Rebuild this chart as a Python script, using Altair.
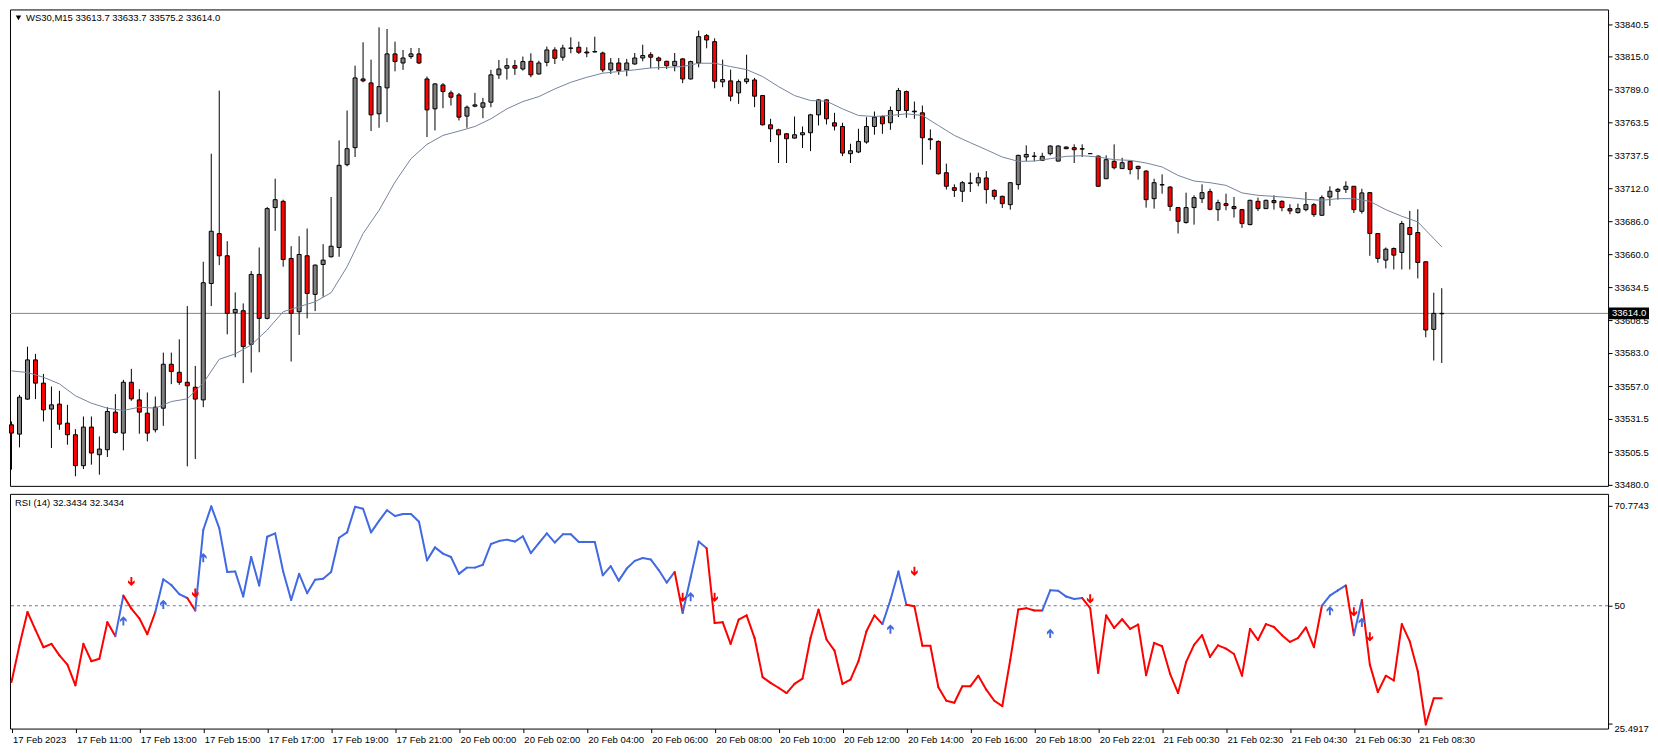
import altair as alt
import pandas as pd

# ---------------- data ----------------
time_labels = ["17 Feb 2023", "17 Feb 11:00", "17 Feb 13:00", "17 Feb 15:00", "17 Feb 17:00",
               "17 Feb 19:00", "17 Feb 21:00", "20 Feb 00:00", "20 Feb 02:00", "20 Feb 04:00",
               "20 Feb 06:00", "20 Feb 08:00", "20 Feb 10:00", "20 Feb 12:00", "20 Feb 14:00",
               "20 Feb 16:00", "20 Feb 18:00", "20 Feb 22:01", "21 Feb 00:30", "21 Feb 02:30",
               "21 Feb 04:30", "21 Feb 06:30", "21 Feb 08:30"]
label_bars = [8 * k for k in range(len(time_labels))]

price_ticks = [33840.5, 33815.0, 33789.0, 33763.5, 33737.5, 33712.0, 33686.0, 33660.0,
               33634.5, 33608.5, 33583.0, 33557.0, 33531.5, 33505.5, 33480.0]
rsi_ticks = [70.7743, 50, 25.4917]

opens = [33526.8, 33519.5, 33546.9, 33577.6, 33559.4, 33539.1, 33543.0, 33528.1, 33519.0, 33494.8,
         33525.0, 33503.4, 33507.3, 33536.7, 33520.3, 33560.1, 33546.3, 33535.9, 33522.9, 33539.8,
         33574.2, 33567.9, 33560.1, 33556.2, 33546.3, 33637.4, 33676.5, 33659.1, 33614.5, 33616.1,
         33589.8, 33644.5, 33610.1, 33696.8, 33701.7, 33657.0, 33615.3, 33659.1, 33628.9, 33652.3,
         33658.3, 33665.6, 33730.4, 33743.7, 33797.5, 33794.4, 33770.2, 33790.5, 33817.1, 33810.0,
         33815.0, 33817.1, 33797.5, 33774.1, 33792.8, 33786.6, 33785.0, 33768.4, 33776.2, 33775.4,
         33779.3, 33800.7, 33805.9, 33807.9, 33805.3, 33811.3, 33801.4, 33810.5, 33820.2, 33814.5,
         33821.5, 33822.3, 33818.6, 33818.6, 33817.8, 33804.6, 33810.0, 33804.6, 33809.2, 33813.9,
         33816.5, 33813.9, 33811.3, 33807.9, 33813.2, 33797.5, 33810.0, 33831.4, 33826.7, 33795.2,
         33796.0, 33786.6, 33795.4, 33796.7, 33784.5, 33761.6, 33757.7, 33754.6, 33751.2, 33753.8,
         33755.4, 33769.4, 33781.1, 33763.2, 33760.3, 33739.0, 33740.3, 33748.1, 33760.3, 33768.1,
         33763.2, 33772.8, 33787.6, 33772.3, 33771.0, 33750.7, 33748.6, 33724.1, 33712.4, 33709.6,
         33715.8, 33716.1, 33720.0, 33710.3, 33705.6, 33699.1, 33714.8, 33736.4, 33736.9, 33733.8,
         33739.0, 33733.2, 33744.2, 33743.7, 33742.9, 33739.0, 33737.1, 33719.4, 33733.0, 33727.3,
         33733.0, 33729.1, 33725.4, 33703.8, 33714.5, 33712.9, 33696.8, 33685.1, 33696.8, 33703.8,
         33709.3, 33695.2, 33699.9, 33697.6, 33695.2, 33683.5, 33701.7, 33696.0, 33702.3, 33701.7,
         33696.0, 33692.9, 33695.2, 33699.1, 33690.8, 33705.1, 33709.6, 33711.1, 33713.5, 33693.9,
         33708.5, 33676.5, 33655.7, 33664.8, 33661.7, 33681.2, 33677.3, 33654.4, 33601.5, 33613.7]

highs = [33529.4, 33550.2, 33588.0, 33582.3, 33566.6, 33556.8, 33553.4, 33542.4, 33523.4, 33533.3,
         33533.3, 33517.7, 33540.6, 33550.8, 33562.0, 33570.6, 33554.7, 33552.1, 33548.9, 33583.3,
         33583.3, 33593.7, 33619.7, 33572.9, 33654.4, 33739.0, 33788.4, 33670.5, 33630.4, 33621.8,
         33647.1, 33665.6, 33697.3, 33719.4, 33703.0, 33666.6, 33674.4, 33680.4, 33652.3, 33668.2,
         33705.1, 33749.4, 33772.8, 33807.9, 33826.2, 33812.6, 33837.9, 33836.6, 33826.7, 33820.2,
         33821.7, 33821.7, 33799.4, 33794.2, 33794.2, 33788.4, 33786.6, 33776.7, 33786.6, 33782.7,
         33804.6, 33812.4, 33813.7, 33812.4, 33815.0, 33817.6, 33811.8, 33822.8, 33822.3, 33824.3,
         33830.1, 33826.7, 33822.3, 33830.6, 33818.9, 33813.9, 33813.9, 33813.2, 33817.8, 33824.3,
         33818.4, 33815.0, 33811.8, 33817.8, 33813.7, 33811.8, 33835.3, 33832.7, 33829.3, 33812.6,
         33804.8, 33797.0, 33816.5, 33798.3, 33785.0, 33766.3, 33758.5, 33755.1, 33768.1, 33760.3,
         33770.2, 33781.7, 33781.7, 33771.0, 33763.2, 33746.8, 33758.5, 33767.6, 33772.0, 33768.9,
         33775.9, 33790.5, 33788.4, 33779.8, 33776.7, 33758.0, 33749.4, 33731.2, 33715.0, 33717.6,
         33724.1, 33724.1, 33725.4, 33711.1, 33706.2, 33716.8, 33738.2, 33745.5, 33740.3, 33739.7,
         33745.5, 33745.5, 33744.7, 33746.3, 33746.3, 33739.1, 33737.7, 33737.7, 33746.3, 33735.8,
         33733.2, 33729.6, 33726.0, 33719.4, 33722.8, 33713.5, 33697.3, 33708.5, 33706.4, 33715.0,
         33711.6, 33703.0, 33707.7, 33705.1, 33695.8, 33703.0, 33704.6, 33703.0, 33706.4, 33702.5,
         33699.4, 33699.9, 33709.0, 33700.4, 33706.4, 33713.5, 33712.2, 33717.4, 33713.7, 33711.6,
         33709.0, 33676.8, 33665.6, 33665.6, 33686.4, 33694.2, 33695.5, 33654.6, 33630.2, 33633.7]

lows = [33491.7, 33509.1, 33546.3, 33546.9, 33529.4, 33508.6, 33522.9, 33511.2, 33486.5, 33492.2,
        33495.6, 33487.8, 33501.6, 33519.8, 33506.8, 33545.6, 33519.8, 33513.8, 33520.8, 33526.0,
        33558.6, 33558.1, 33494.3, 33500.0, 33540.6, 33619.7, 33651.8, 33597.6, 33579.7, 33559.4,
        33567.7, 33583.6, 33609.3, 33678.6, 33650.5, 33576.3, 33597.1, 33610.1, 33615.8, 33627.0,
        33657.8, 33658.3, 33729.1, 33736.4, 33794.9, 33756.7, 33759.3, 33763.7, 33803.5, 33804.6,
        33813.2, 33809.2, 33752.0, 33757.2, 33774.6, 33776.7, 33765.0, 33759.3, 33775.4, 33766.8,
        33775.4, 33797.5, 33797.0, 33800.7, 33804.0, 33798.8, 33800.9, 33807.4, 33809.2, 33811.8,
        33817.6, 33817.1, 33814.5, 33818.4, 33802.7, 33801.4, 33800.7, 33799.6, 33808.7, 33811.3,
        33805.9, 33804.8, 33805.3, 33803.5, 33794.2, 33797.0, 33806.6, 33821.5, 33790.2, 33791.0,
        33780.1, 33778.0, 33793.6, 33775.4, 33761.1, 33748.1, 33731.7, 33731.7, 33750.7, 33743.4,
        33741.0, 33761.1, 33761.9, 33757.2, 33737.1, 33731.7, 33739.5, 33746.8, 33753.8, 33754.6,
        33757.7, 33767.6, 33767.1, 33766.3, 33730.4, 33742.1, 33722.6, 33710.9, 33705.1, 33701.2,
        33709.0, 33713.5, 33699.9, 33703.0, 33696.5, 33695.2, 33710.9, 33733.2, 33733.2, 33733.2,
        33737.7, 33733.0, 33742.6, 33731.7, 33736.4, 33739.0, 33712.9, 33719.2, 33726.7, 33727.0,
        33722.8, 33718.7, 33696.8, 33696.0, 33707.7, 33694.2, 33676.5, 33684.3, 33683.5, 33700.4,
        33694.7, 33686.4, 33694.7, 33689.0, 33680.9, 33683.0, 33694.2, 33695.8, 33695.2, 33693.9,
        33691.6, 33692.1, 33693.9, 33689.5, 33690.5, 33698.1, 33703.0, 33708.3, 33692.6, 33692.1,
        33659.1, 33653.6, 33649.2, 33648.4, 33648.4, 33648.4, 33641.4, 33595.3, 33577.1, 33575.2]

closes = [33520.3, 33548.4, 33577.6, 33559.4, 33538.5, 33542.4, 33527.3, 33519.0, 33494.8, 33525.0,
          33504.7, 33507.8, 33537.2, 33520.8, 33560.1, 33547.1, 33536.7, 33520.3, 33540.6, 33574.2,
          33568.5, 33560.1, 33557.3, 33546.9, 33638.0, 33678.3, 33659.1, 33614.0, 33617.1, 33588.0,
          33644.5, 33610.1, 33696.0, 33703.0, 33656.2, 33614.0, 33660.1, 33629.6, 33651.8, 33655.7,
          33666.6, 33729.9, 33742.9, 33798.3, 33796.0, 33769.4, 33791.5, 33817.1, 33811.1, 33813.9,
          33817.1, 33810.0, 33773.3, 33793.6, 33787.6, 33783.2, 33767.6, 33775.4, 33777.2, 33778.8,
          33800.7, 33805.3, 33807.9, 33805.9, 33811.1, 33800.7, 33810.0, 33820.2, 33813.7, 33821.7,
          33821.7, 33818.4, 33817.8, 33818.9, 33804.6, 33810.0, 33804.0, 33810.0, 33813.9, 33815.8,
          33814.5, 33811.8, 33807.9, 33811.3, 33797.5, 33811.1, 33830.6, 33828.0, 33795.7, 33797.0,
          33784.0, 33795.4, 33797.5, 33784.0, 33761.6, 33758.5, 33753.8, 33750.7, 33753.8, 33755.4,
          33769.4, 33781.1, 33766.3, 33760.6, 33739.5, 33741.3, 33748.6, 33760.3, 33767.6, 33762.4,
          33772.8, 33788.4, 33772.8, 33771.8, 33751.5, 33749.9, 33723.3, 33713.5, 33710.3, 33716.3,
          33716.1, 33720.2, 33710.9, 33705.6, 33699.9, 33716.3, 33737.7, 33738.4, 33737.1, 33736.9,
          33745.0, 33745.0, 33742.9, 33742.1, 33742.6, 33739.1, 33713.5, 33734.3, 33728.0, 33731.9,
          33726.7, 33727.3, 33703.0, 33716.3, 33714.8, 33697.8, 33686.1, 33696.8, 33704.6, 33708.5,
          33695.5, 33700.7, 33698.4, 33696.0, 33684.3, 33702.5, 33696.0, 33702.5, 33700.7, 33696.8,
          33694.2, 33696.0, 33699.1, 33691.3, 33704.6, 33709.6, 33711.1, 33713.5, 33695.2, 33708.3,
          33676.5, 33657.0, 33664.3, 33659.6, 33684.3, 33675.7, 33653.8, 33601.0, 33614.0, 33614.0]

ma_bars = list(range(0, 180, 2)) + [179]
ma_values = [33569.0, 33567.7, 33564.0, 33558.8, 33549.5, 33543.7, 33539.8, 33538.0, 33540.6, 33539.8,
             33545.0, 33547.1, 33559.4, 33578.1, 33582.3, 33589.3, 33601.0, 33615.3, 33619.2, 33623.1,
             33630.2, 33650.5, 33676.5, 33694.7, 33716.8, 33735.1, 33746.3, 33753.3, 33756.7, 33760.3,
             33766.3, 33774.1, 33779.8, 33783.7, 33789.7, 33794.9, 33798.8, 33802.0, 33803.3, 33804.6,
             33806.1, 33806.6, 33807.2, 33809.8, 33809.8, 33807.2, 33804.8, 33799.4, 33791.5, 33784.5,
             33780.6, 33780.1, 33774.1, 33768.9, 33768.1, 33768.9, 33770.2, 33768.9, 33761.1, 33753.3,
             33747.6, 33742.1, 33736.4, 33733.0, 33733.2, 33735.1, 33736.9, 33737.4, 33736.4, 33734.3,
             33733.8, 33731.7, 33728.6, 33722.0, 33717.6, 33716.3, 33714.2, 33708.3, 33706.4, 33705.6,
             33704.6, 33703.3, 33702.5, 33703.8, 33703.8, 33701.7, 33695.2, 33690.0, 33685.6, 33672.6,
             33666.1]

rsi_values = [34.2, 41.8, 48.7, 45.0, 41.4, 42.1, 39.7, 37.8, 33.5, 42.1,
              38.5, 39.0, 46.6, 43.7, 52.1, 49.4, 47.4, 44.1, 48.7, 55.5,
              54.3, 52.4, 51.6, 49.0, 65.7, 70.6, 66.1, 57.0, 57.1, 51.9,
              60.1, 54.2, 64.3, 65.0, 57.1, 51.2, 56.6, 52.6, 55.4, 55.6,
              57.0, 64.1, 65.2, 70.5, 70.1, 65.2, 67.6, 69.8, 68.6, 69.0,
              69.0, 67.4, 59.4, 62.1, 60.8, 60.1, 56.6, 57.9, 57.9, 58.5,
              62.8, 63.4, 63.7, 63.3, 64.4, 60.9, 63.0, 65.0, 63.1, 64.8,
              64.8, 63.2, 63.2, 63.2, 56.3, 58.2, 55.2, 57.7, 59.3, 59.9,
              59.6, 57.4, 54.8, 57.0, 48.5, 55.9, 63.3, 61.9, 46.4, 46.6,
              42.1, 47.1, 48.0, 43.3, 35.2, 34.0, 33.0, 31.9, 33.8, 34.9,
              43.3, 49.2, 43.0, 40.7, 33.8, 34.7, 38.5, 44.7, 48.0, 46.2,
              51.2, 57.1, 50.2, 49.9, 41.7, 41.7, 33.1, 30.3, 29.9, 33.3,
              33.3, 35.5, 32.6, 30.3, 29.2, 38.8, 49.2, 49.5, 49.0, 49.0,
              53.2, 53.1, 51.9, 51.4, 51.6, 49.5, 36.1, 48.0, 45.4, 47.2,
              45.2, 46.1, 35.6, 42.3, 41.6, 35.9, 31.9, 38.3, 41.9, 43.9,
              39.4, 41.8, 41.1, 40.0, 35.5, 45.2, 42.9, 46.2, 45.6, 43.9,
              42.5, 43.3, 45.5, 41.4, 50.0, 52.1, 53.2, 54.2, 43.9, 51.2,
              37.8, 32.1, 35.5, 34.5, 46.2, 42.6, 36.4, 25.4, 30.8, 30.8]

# RSI line segments drawn blue (indicator "up" state), as inclusive index ranges
rsi_up_ranges = [(13, 13), (18, 21), (23, 82), (84, 86), (109, 111), (129, 133), (164, 166), (168, 168)]

arrow_bars = [15, 23, 84, 88, 113, 135, 168, 170, 14, 19, 24, 85, 110, 130, 165, 169]
arrow_values = [55.0, 52.6, 51.7, 51.7, 57.1, 51.4, 48.7, 43.5, 46.9, 50.3, 60.0, 51.9, 45.2, 44.3, 49.0, 46.6]
arrow_dirs = ["down"] * 8 + ["up"] * 8

main_header = "WS30,M15  33613.7 33633.7 33575.2 33614.0"
rsi_header = "RSI (14) 32.3434 32.3434"
last_price = 33614.0

# ---------------- tables ----------------
n = len(opens)
ohlc = pd.DataFrame({"bar": list(range(n)), "open": opens, "high": highs, "low": lows, "close": closes})
ma_df = pd.DataFrame({"bar": ma_bars, "ma": ma_values})


def state_of(i):
    return "up" if any(a <= i <= b for a, b in rsi_up_ranges) else "down"


seg_df = pd.DataFrame({
    "bar": list(range(n - 1)),
    "bar2": list(range(1, n)),
    "r1": rsi_values[:-1],
    "r2": rsi_values[1:],
    "state": [state_of(i) for i in range(n - 1)],
})
arrow_df = pd.DataFrame({"bar": arrow_bars, "val": arrow_values, "dir": arrow_dirs})

# ---------------- layout ----------------
FONT = "Liberation Sans, Arial, sans-serif"
FS = 9.5
W = 1600
H_MAIN = 477
H_RSI = 235
BLUE = "#4169e1"
RED = "#ff0000"

DOWN_PATH = "M -0.2 -1 L 0.2 -1 L 0.2 0.15 L 0.7 -0.3 L 0.7 0.25 L 0 0.95 L -0.7 0.25 L -0.7 -0.3 L -0.2 0.15 Z"
UP_PATH = "M -0.2 1 L 0.2 1 L 0.2 -0.15 L 0.7 0.3 L 0.7 -0.25 L 0 -0.95 L -0.7 -0.25 L -0.7 0.3 L -0.2 -0.15 Z"

xs = alt.Scale(domain=[-1.5 / 8, (W - 1.5) / 8], nice=False, zero=False)
ys = alt.Scale(domain=[33479.0, 33851.9], nice=False, zero=False)
rs = alt.Scale(domain=[24.54, 73.19], nice=False, zero=False)
col = alt.Scale(domain=["up", "down"], range=[BLUE, RED])
shp = alt.Scale(domain=["up", "down"], range=[UP_PATH, DOWN_PATH])

price_axis = alt.Axis(orient="right", values=price_ticks, format=".1f", tickSize=4, labelPadding=2,
                      domain=False, grid=False, title=None, labelFont=FONT, labelFontSize=FS,
                      labelColor="black", tickColor="black")

label_expr = "[" + ",".join(f"'{t}'" for t in time_labels) + "][round(datum.value / 8)]"
time_axis = alt.Axis(values=label_bars, labelExpr=label_expr, tickSize=4, labelPadding=2,
                     labelAlign="left", labelOffset=1, labelOverlap=False, labelFlush=False,
                     labelBound=False, domain=False, grid=False, title=None, labelFont=FONT,
                     labelFontSize=FS, labelColor="black", tickColor="black")
rsi_axis = alt.Axis(orient="right", values=rsi_ticks, tickSize=4, labelPadding=2, domain=False,
                    grid=False, title=None, labelFont=FONT, labelFontSize=FS, labelColor="black",
                    tickColor="black",
                    labelExpr="datum.value == 50 ? '50' : format(datum.value, '.4f')",
                    labelBaseline=alt.condition("datum.value < 30", alt.value("top"), alt.value("middle")))

# ---- main (price) panel ----
price_line = alt.Chart(pd.DataFrame({"p": [last_price]})).mark_rule(
    color="#7d8898", strokeWidth=1).encode(y=alt.Y("p:Q", scale=ys, axis=price_axis))

wick = alt.Chart(ohlc).mark_rule(color="black", strokeWidth=1).encode(
    x=alt.X("bar:Q", scale=xs, axis=None),
    y=alt.Y("low:Q", scale=ys, axis=price_axis),
    y2="high:Q",
)

body = alt.Chart(ohlc).transform_calculate(
    x1="datum.bar - 0.25", x2="datum.bar + 0.25"
).mark_rect(stroke="black", strokeWidth=1).encode(
    x=alt.X("x1:Q", scale=xs, axis=None),
    x2="x2:Q",
    y=alt.Y("open:Q", scale=ys, axis=price_axis),
    y2="close:Q",
    fill=alt.condition("datum.close >= datum.open", alt.value("#808080"), alt.value(RED)),
)

ma_line = alt.Chart(ma_df).mark_line(color="#75849a", strokeWidth=1).encode(
    x=alt.X("bar:Q", scale=xs, axis=None),
    y=alt.Y("ma:Q", scale=ys, axis=price_axis),
)

box_df = pd.DataFrame({"p": [last_price], "label": [f"{last_price:.1f}"]})
price_box = alt.Chart(box_df).transform_calculate(
    top="datum.p + 4.6", bot="datum.p - 4.6"
).mark_rect(fill="black").encode(
    x=alt.value(W + 1), x2=alt.value(W + 41),
    y=alt.Y("top:Q", scale=ys, axis=price_axis), y2="bot:Q",
)
price_box_text = alt.Chart(box_df).mark_text(
    align="left", baseline="middle", font=FONT, fontSize=FS, color="white"
).encode(x=alt.value(W + 4), y=alt.Y("p:Q", scale=ys, axis=price_axis), text="label:N")

head_main = alt.Chart(pd.DataFrame({"t": [main_header]})).mark_text(
    align="left", baseline="middle", font=FONT, fontSize=FS, color="black"
).encode(x=alt.value(16), y=alt.value(9), text="t:N")
tri = alt.Chart(pd.DataFrame({"t": [0]})).mark_point(
    shape="triangle-down", filled=True, color="black", size=30, opacity=1
).encode(x=alt.value(8.5), y=alt.value(8.5))

main = alt.layer(price_line, wick, body, ma_line, price_box, price_box_text, head_main, tri).properties(
    width=W, height=H_MAIN)

# ---- RSI panel ----
level50 = alt.Chart(pd.DataFrame({"v": [50]})).mark_rule(
    color="#6a7a90", strokeDash=[3, 3], strokeWidth=1
).encode(y=alt.Y("v:Q", scale=rs, axis=rsi_axis))

rsi_line = alt.Chart(seg_df).mark_rule(strokeWidth=2, strokeCap="round").encode(
    x=alt.X("bar:Q", scale=xs, axis=time_axis),
    x2="bar2:Q",
    y=alt.Y("r1:Q", scale=rs, axis=rsi_axis),
    y2="r2:Q",
    color=alt.Color("state:N", scale=col, legend=None),
)

arrows = alt.Chart(arrow_df).mark_point(filled=True, size=90, opacity=1, strokeWidth=0).encode(
    x=alt.X("bar:Q", scale=xs, axis=time_axis),
    y=alt.Y("val:Q", scale=rs, axis=rsi_axis),
    shape=alt.Shape("dir:N", scale=shp, legend=None),
    color=alt.Color("dir:N", scale=col, legend=None),
)

head_rsi = alt.Chart(pd.DataFrame({"t": [rsi_header]})).mark_text(
    align="left", baseline="middle", font=FONT, fontSize=FS, color="black"
).encode(x=alt.value(5), y=alt.value(9), text="t:N")

rsi = alt.layer(level50, rsi_line, arrows, head_rsi).properties(width=W, height=H_RSI)

chart = alt.vconcat(main, rsi, spacing=3).properties(
    padding={"left": 0, "top": 0, "right": 0, "bottom": 0},
    background="white",
).configure_view(stroke="black", strokeWidth=1)

chart.save("out.html", embed_options={"renderer": "svg", "actions": False})
